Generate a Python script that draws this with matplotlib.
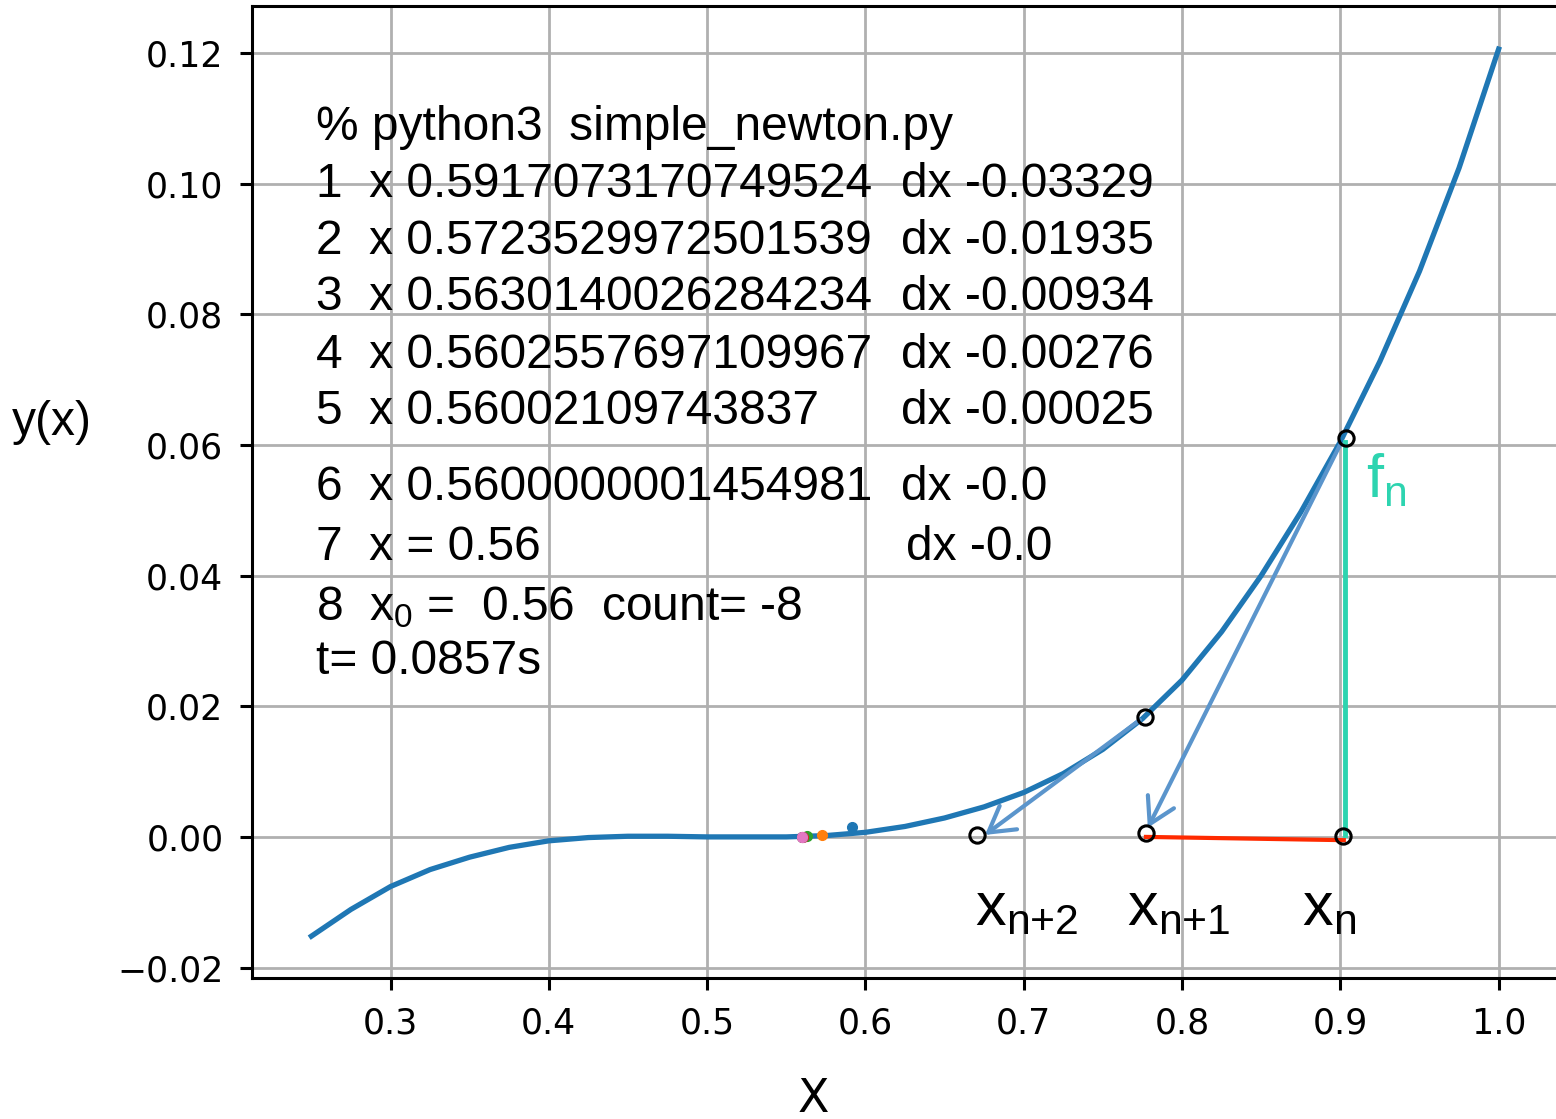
import matplotlib
matplotlib.use("Agg")
import matplotlib.pyplot as plt

# curve y(x), values
xs = [0.25, 0.275, 0.30, 0.325, 0.35, 0.375, 0.40, 0.425, 0.45, 0.475,
      0.50, 0.525, 0.55, 0.575, 0.60, 0.625, 0.65, 0.675, 0.70, 0.725,
      0.75, 0.775, 0.80, 0.825, 0.85, 0.875, 0.90, 0.925, 0.95, 0.975, 1.00]
ys = [-0.0152, -0.0111, -0.0076, -0.0050, -0.0031, -0.0016, -0.0006, -0.0001, 0.0001, 0.0001,
      0.0000, 0.0000, 0.0000, 0.0002, 0.0007, 0.0016, 0.0029, 0.0046, 0.0068, 0.0097,
      0.0134, 0.0181, 0.0240, 0.0314, 0.0400, 0.0497, 0.0605, 0.0728, 0.0866, 0.1024, 0.1206]

# newton iterates (coloured dots)
iter_x = [0.5917, 0.5724, 0.5630, 0.5603, 0.5600, 0.5600, 0.5600]
iter_y = [0.0015, 0.0003, 0.0001, 0.0000, 0.0000, 0.0000, 0.0000]

# hand drawn construction
circ_x = [0.9035, 0.7766, 0.6703, 0.7772, 0.9018]
circ_y = [0.0611, 0.0184, 0.0003, 0.0006, 0.0002]
fn_x = [0.9032, 0.9032]
fn_y = [0.0605, 0.0003]
step_x = [0.7772, 0.9022]
step_y = [0.0000, -0.0005]
arrows = [((0.8998, 0.0600), (0.7784, 0.0014)),
          ((0.7734, 0.0179), (0.6755, 0.0003))]

lines_left = ["% python3  simple_newton.py",
              "1  x 0.5917073170749524",
              "2  x 0.5723529972501539",
              "3  x 0.5630140026284234",
              "4  x 0.5602557697109967",
              "5  x 0.56002109743837",
              "6  x 0.5600000001454981",
              "7  x = 0.56",
              r"8  x$_\mathrm{0}$ =  0.56  count= -8",
              "t= 0.0857s"]
lines_dx = ["", "dx -0.03329", "dx -0.01935", "dx -0.00934", "dx -0.00276",
            "dx -0.00025", "dx -0.0", "dx -0.0", "", ""]
baselines = [140, 197, 254, 310, 368, 424, 500, 560, 620, 674]

plt.rcParams['mathtext.fontset'] = 'custom'
plt.rcParams['mathtext.rm'] = 'Liberation Sans'
plt.rcParams['mathtext.it'] = 'Liberation Sans'

W, H = 1556, 1119
fig = plt.figure(figsize=(W / 100, H / 100), dpi=100)
ax = fig.add_axes([252 / W, 1 - 978 / H, (1558 - 252) / W, (978 - 6) / H])

ax.plot(xs, ys, color='#1f77b4', lw=3.8, zorder=3, solid_joinstyle='round')
for i in range(len(iter_x)):
    ax.plot(iter_x[i], iter_y[i], 'o', ms=7, zorder=4)

ax.plot(fn_x, fn_y, color='#2dd4b0', lw=3.5, zorder=5)
ax.plot(step_x, step_y, color='#ff2a00', lw=3, zorder=5)
for start, end in arrows:
    ax.annotate('', xy=end, xytext=start,
                arrowprops=dict(arrowstyle='->,head_length=0.6,head_width=0.35',
                                mutation_scale=30, color='#5b95cc', lw=3,
                                shrinkA=0, shrinkB=0), zorder=6)
ax.plot(circ_x, circ_y, 'o', ms=11, mfc='none', mec='black', mew=2.2, zorder=7)

ax.set_xlim(0.2125, 1.0375)
ax.set_ylim(-0.0216, 0.1272)
ax.set_xticks([0.3, 0.4, 0.5, 0.6, 0.7, 0.8, 0.9, 1.0])
ax.set_yticks([-0.02, 0.0, 0.02, 0.04, 0.06, 0.08, 0.10, 0.12])
ax.grid(True, color='#b0b0b0', lw=2)
ax.set_axisbelow(True)
ax.tick_params(labelsize=25, length=8.6, width=2.2, pad=12)
for s in ax.spines.values():
    s.set_linewidth(2.2)

txt = dict(family='Liberation Sans', fontsize=34.5, va='baseline', color='black')
for left, dx, b in zip(lines_left, lines_dx, baselines):
    fig.text(316 / W, 1 - b / H, left, **txt)
    if dx:
        xpos = 906 if left.startswith("7") else 901
        fig.text(xpos / W, 1 - b / H, dx, **txt)

big = dict(family='Liberation Sans', fontsize=44, va='baseline', color='black')
fig.text(975 / W, 1 - 925 / H, r"x$_\mathrm{n{+}2}$", **big)
fig.text(1127 / W, 1 - 925 / H, r"x$_\mathrm{n{+}1}$", **big)
fig.text(1302 / W, 1 - 925 / H, r"x$_\mathrm{n}$", **big)
fig.text(1366 / W, 1 - 497 / H, r"f$_\mathrm{n}$", family='Liberation Sans',
         fontsize=44, va='baseline', color='#2dd4b0')

fig.text(12 / W, 1 - 435 / H, "y(x)", family='Liberation Sans', fontsize=34.5, va='baseline')
fig.text(813 / W, 1 - 1112 / H, "X", fontsize=33, ha='center', va='baseline')

fig.savefig('out.png', dpi=100)
